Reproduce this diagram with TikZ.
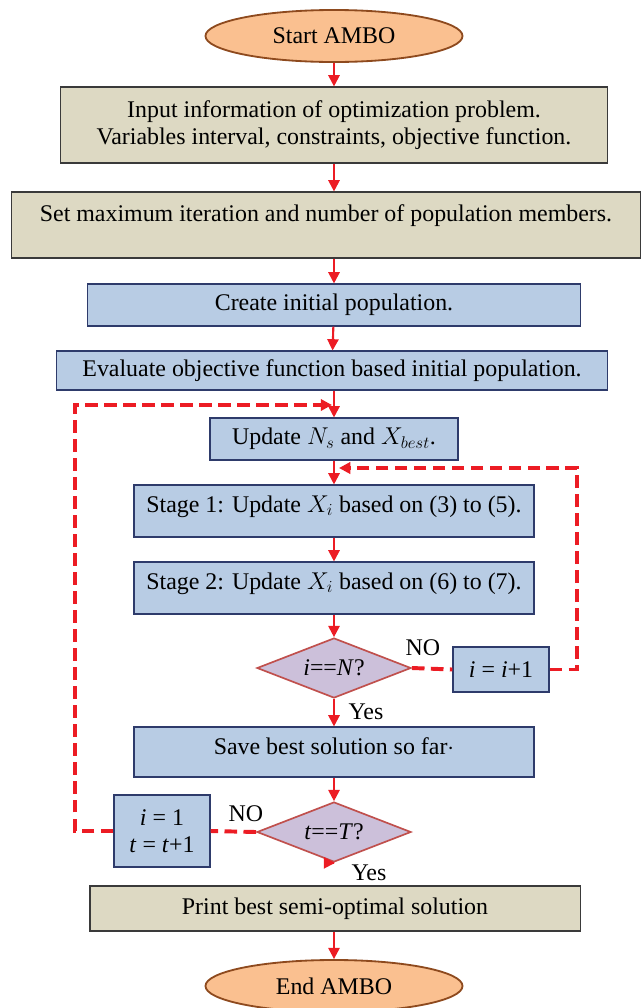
\documentclass[tikz,border=0pt]{standalone}
\usepackage{fontspec}
\setmainfont{Liberation Serif}
\usepackage{xcolor}
\usepackage{amsmath}
\usetikzlibrary{arrows.meta, shapes.geometric}

\definecolor{tanfill}{HTML}{DDD9C3}
\definecolor{tanline}{HTML}{3A3A3A}
\definecolor{bluefill}{HTML}{B8CCE4}
\definecolor{blueline}{HTML}{2E3B6B}
\definecolor{termfill}{HTML}{FAC090}
\definecolor{termline}{HTML}{8E4A1E}
\definecolor{testfill}{HTML}{CCC0DA}
\definecolor{testline}{HTML}{C0504D}
\definecolor{flowred}{HTML}{EC1C24}

\begin{document}
\begin{tikzpicture}[
		x=0.025cm, y=-0.025cm,
		font=\fontsize{17}{19.5}\selectfont,
		terminal/.style={ellipse, draw=termline, line width=1.3pt, fill=termfill,
			minimum width=6.425cm, minimum height=1.3cm, inner sep=0pt},
		tanbox/.style={draw=tanline, line width=0.8pt, fill=tanfill,
			align=center, inner sep=0pt},
		bluebox/.style={draw=blueline, line width=0.8pt, fill=bluefill,
			align=center, inner sep=0pt},
		decision/.style={diamond, draw=testline, line width=1.2pt, fill=testfill,
			aspect=2.6, inner sep=0pt, minimum width=3.85cm, minimum height=1.5cm},
		flow/.style={->, line width=1.5pt, draw=flowred},
		loopback/.style={line width=2.8pt, draw=flowred, dash pattern=on 9pt off 4.5pt},
		answer/.style={inner sep=0pt},
		>={Triangle[length=8pt, width=8pt]}
	]
	% page = the reference frame, 641 x 1008 units
	\useasboundingbox (0,0) rectangle (641,1008);

	% main column, top to bottom
	\node[terminal] (start) at (334,36) {Start AMBO};
	\node[tanbox, minimum width=13.675cm, minimum height=1.9cm] (info) at (334,125)
		{Input information of optimization problem.\\
		Variables interval, constraints, objective function.};
	% text sits in the upper part of this box, hence the extra depth
	\node[tanbox, minimum width=15.7cm, minimum height=1.65cm, text depth=0.6cm]
		(setmax) at (326,225)
		{Set maximum iteration and number of population members.};
	\node[bluebox, minimum width=12.3cm, minimum height=1.05cm] (initpop) at (334,305)
		{Create initial population.};
	\node[bluebox, minimum width=13.775cm, minimum height=0.975cm] (evalpop) at (332,370.5)
		{Evaluate objective function based initial population.};
	\node[bluebox, minimum width=6.2cm, minimum height=1.05cm] (update) at (334,439)
		{Update $N_s$ and $X_{best}$.};
	\node[bluebox, minimum width=10cm, minimum height=1.3cm, text depth=0.35cm]
		(stageone) at (334,511)
		{Stage 1: Update $X_i$ based on (3) to (5).};
	\node[bluebox, minimum width=10cm, minimum height=1.3cm, text depth=0.35cm]
		(stagetwo) at (334,588)
		{Stage 2: Update $X_i$ based on (6) to (7).};
	\node[decision] (chkN) at (334,668) {\textit{i}==\textit{N}?};
	\node[bluebox, minimum width=10cm, minimum height=1.25cm, text depth=0.3cm]
		(save) at (334,752)
		{Save best solution so far$\cdot$};
	\node[decision] (chkT) at (334,832) {\textit{t}==\textit{T}?};
	\node[tanbox, minimum width=12.25cm, minimum height=1.125cm] (print) at (335,908.5)
		{Print best semi-optimal solution};
	\node[terminal] (finish) at (334,986) {End AMBO};

	% side boxes of the two loops
	\node[bluebox, minimum width=2.4cm, minimum height=1.125cm] (inext) at (501,669.5)
		{\textit{i} = \textit{i}+1};
	\node[bluebox, minimum width=2.4cm, minimum height=1.8cm] (tnext) at (162,831)
		{\textit{i} = 1\\ \textit{t} = \textit{t}+1};

	% branch labels
	\node[answer] (noN) at (423,648) {NO};
	\node[answer] (yesN) at (366,712) {Yes};
	\node[answer] (noT) at (246,814) {NO};
	\node[answer] (yesT) at (369,873) {Yes};

	% solid arrows down the column
	\draw[flow] (start) -- (info);
	\draw[flow] (info.south) -- (info.south |- setmax.north);
	\draw[flow] (setmax.south -| initpop.north) -- (initpop.north);
	\draw[flow] (initpop) -- (evalpop);
	\draw[flow] (evalpop.south -| update.north) -- (update.north);
	\draw[flow] (update) -- (stageone);
	\draw[flow] (stageone) -- (stagetwo);
	\draw[flow] (stagetwo) -- (chkN);
	\draw[flow] (chkN) -- (save);
	\draw[flow] (save) -- (chkT);
	\draw[flow] (chkT.south) -- (chkT.south -| print.north);
	\draw[flow] (print.south -| finish.north) -- (finish.north);

	% inner loop: i < N, back above stage 1
	\coordinate (innerturn) at (577,468);
	\coordinate (innerin) at (339,468);
	\draw[loopback] (chkN.east) -- (inext.west);
	\draw[loopback, ->] (inext.east) -| (innerturn) -- (innerin);

	% outer loop: t < T, back above the update box
	\coordinate (outerturn) at (75,405);
	\coordinate (outerin) at (332,405);
	\draw[loopback] (chkT.west) -- (tnext.east);
	\draw[loopback, ->] (tnext.west) -| (outerturn) -- (outerin);
\end{tikzpicture}
\end{document}
